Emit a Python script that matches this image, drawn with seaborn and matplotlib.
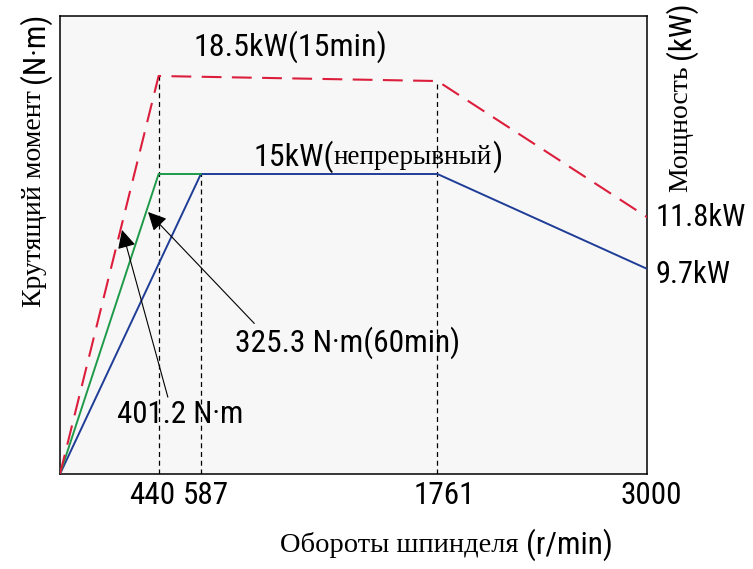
import numpy as np
import pandas as pd
import matplotlib
matplotlib.use("Agg")
import matplotlib.pyplot as plt
import matplotlib.font_manager as fm
import matplotlib.transforms as mtransforms
import seaborn as sns

# ---- data (relative curve heights, y axis has no scale) ----
tick_speeds = [440, 587, 1761, 3000]
tick_labels = ["440", "587", "1761", "3000"]

red_x = [0, 440, 1761, 3000]          # 18.5kW (15min)
red_y = [0, 86.9, 85.8, 56.1]
green_x = [0, 440, 587]               # 325.3 N·m (60min)
green_y = [0, 65.5, 65.5]
blue_x = [0, 587, 1761, 3000]         # 15kW continuous
blue_y = [0, 65.5, 65.5, 44.8]
vline_x = [440, 587, 1761]
vline_top = [86.9, 65.5, 85.8]

# nonlinear (schematic) speed axis
scale_pts = [0, 440, 587, 1761, 3000]
scale_frac = [0, 0.168, 0.240, 0.643, 1.0]

sns.set_theme(style="white")
names = {f.name for f in fm.fontManager.ttflist}
narrow = None
for cand in ["Liberation Sans Narrow", "Roboto Condensed", "Open Sans Condensed",
             "Noto Sans Condensed", "DejaVu Sans Condensed"]:
    if cand in names:
        narrow = cand
        break
if narrow is None:
    extra = sorted(n for n in names if "Narrow" in n or "Condensed" in n)
    narrow = extra[0] if extra else None
if narrow is not None:
    SANS = dict(family=[narrow, "DejaVu Sans"])
else:
    SANS = dict(family=["DejaVu Sans"], stretch="condensed")
SERIF = dict(family=["Liberation Serif", "DejaVu Serif"])
plt.rcParams["font.family"] = SANS["family"]
plt.rcParams["text.color"] = "black"
plt.rcParams["xtick.color"] = "black"

fig = plt.figure(figsize=(7.53, 5.69), dpi=100)
ax = fig.add_axes([60 / 753, 1 - 474 / 569, 587 / 753, 458 / 569])
ax.set_facecolor("#f7f7f7")

fwd = lambda v: np.interp(v, scale_pts, scale_frac)
inv = lambda v: np.interp(v, scale_frac, scale_pts)
ax.set_xscale("function", functions=(fwd, inv))

df_r = pd.DataFrame({"x": red_x, "y": red_y})
df_g = pd.DataFrame({"x": green_x, "y": green_y})
df_b = pd.DataFrame({"x": blue_x, "y": blue_y})

ax.vlines(vline_x, 0, vline_top, colors="black", linewidth=0.9,
          linestyles=(0, (4, 3)), zorder=1)
sns.lineplot(data=df_b, x="x", y="y", ax=ax, color="#1f3d96", linewidth=1.4, zorder=3)
sns.lineplot(data=df_g, x="x", y="y", ax=ax, color="#1f9a4a", linewidth=1.4, zorder=3)
sns.lineplot(data=df_r, x="x", y="y", ax=ax, color="#dc1e3c", linewidth=1.5,
             linestyle=(0, (9.5, 5)), zorder=4)

ax.set_xlim(0, 3000)
ax.set_ylim(0, 100)
ax.set_yticks([])
ax.set_xticks(tick_speeds)
ax.set_xticklabels(tick_labels, fontsize=22.5, **SANS)
ax.tick_params(axis="x", length=0, pad=5, colors="black")
shifts = [-6, 5, 7, 4]
for lbl, dx in zip(ax.get_xticklabels(), shifts):
    lbl.set_transform(lbl.get_transform() +
                      mtransforms.ScaledTranslation(dx / 100, 0, fig.dpi_scale_trans))
ax.set_xlabel("")
ax.set_ylabel("")
for s in ax.spines.values():
    s.set_color("black")
    s.set_linewidth(1.1)


def chain(parts, xy, coords, rotation=0):
    prev = None
    for txt, fnt, size in parts:
        if prev is None:
            if rotation:
                prev = ax.annotate(txt, xy=xy, xycoords=coords, ha="center", va="bottom",
                                   rotation=90, fontsize=size, annotation_clip=False, **fnt)
            else:
                prev = ax.annotate(txt, xy=xy, xycoords=coords, ha="left", va="center",
                                   fontsize=size, annotation_clip=False, **fnt)
        else:
            if rotation:
                prev = ax.annotate(txt, xy=(0.5, 1), xycoords=prev, ha="center", va="bottom",
                                   rotation=90, fontsize=size, annotation_clip=False, **fnt)
            else:
                prev = ax.annotate(txt, xy=(1, 0.5), xycoords=prev, ha="left", va="center",
                                   fontsize=size, annotation_clip=False, **fnt)
    return prev


# curve labels
ax.text(0.392, 0.932, "18.5kW(15min)", transform=ax.transAxes, ha="center", va="center",
        fontsize=23, **SANS)
chain([("15kW(", SANS, 23), ("непрерывный", SERIF, 19.5), (")", SANS, 23)],
      (0.329, 0.692), "axes fraction")
ax.text(1.015, 0.559, "11.8kW", transform=ax.transAxes, ha="left", va="center",
        fontsize=22, **SANS)
ax.text(1.015, 0.4345, "9.7kW", transform=ax.transAxes, ha="left", va="center",
        fontsize=22, **SANS)

arrow = dict(arrowstyle="-|>", mutation_scale=28, lw=0.8, color="black", shrinkA=0, shrinkB=0)
ax.annotate("325.3 N·m(60min)", xy=(0.150, 0.572), xycoords="axes fraction",
            xytext=(0.298, 0.286), textcoords="axes fraction", ha="left", va="center",
            fontsize=22.7, arrowprops=dict(arrow, relpos=(0.1, 1.0)), **SANS)
ax.annotate("401.2 N·m", xy=(0.1056, 0.533), xycoords="axes fraction",
            xytext=(0.097, 0.129), textcoords="axes fraction", ha="left", va="center",
            fontsize=22.3, arrowprops=dict(arrow, relpos=(0.41, 1.0)), **SANS)

# axis titles
chain([("Обороты шпинделя ", SERIF, 20.5), ("(r/min)", SANS, 22.5)],
      ((280 - 60) / 587, (474 - 545) / 458), "axes fraction")
chain([("Крутящий момент ", SERIF, 20), ("(N·m)", SANS, 22.5)],
      ((35 - 60) / 587, (474 - 307) / 458), "axes fraction", rotation=90)
chain([("Мощность ", SERIF, 20), ("(kW)", SANS, 22.5)],
      ((681 - 60) / 587, (474 - 192) / 458), "axes fraction", rotation=90)

fig.savefig("out.png", dpi=100, facecolor="white")
